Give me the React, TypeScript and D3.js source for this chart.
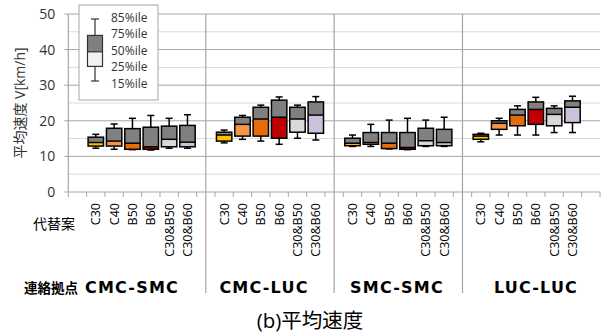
import React from "react";
import * as d3 from "d3";

const groups = ["CMC-SMC", "CMC-LUC", "SMC-SMC", "LUC-LUC"];
const alternatives = ["C30", "C40", "B50", "B60", "C30&B50", "C30&B60"];
const altColors = ["#ffc000", "#f79646", "#e46c0a", "#c00000", "#d9d9d9", "#ccc1da"];
const upperColor = "#808080";

// percentiles per group (rows) per alternative (cols)
const p15 = [
  [12.3, 12.0, 11.9, 11.8, 12.3, 12.3],
  [13.8, 14.8, 14.3, 13.4, 15.1, 14.6],
  [12.8, 12.8, 12.1, 11.9, 12.8, 12.8],
  [14.1, 16.0, 16.0, 16.0, 16.7, 16.7],
];
const p25 = [
  [12.9, 12.9, 12.0, 12.0, 12.7, 12.7],
  [14.3, 15.7, 15.7, 15.1, 16.8, 16.5],
  [13.0, 13.4, 12.2, 12.0, 13.0, 13.0],
  [14.8, 17.6, 18.6, 19.0, 18.6, 19.5],
];
const p50 = [
  [13.9, 14.3, 13.7, 12.7, 14.8, 14.0],
  [16.0, 19.0, 20.5, 21.0, 20.5, 21.6],
  [13.7, 13.9, 13.7, 12.5, 14.4, 13.9],
  [15.7, 19.3, 21.6, 23.2, 21.8, 23.8],
];
const p75 = [
  [15.4, 17.9, 17.8, 18.2, 18.5, 18.7],
  [16.8, 21.0, 23.8, 25.8, 23.8, 25.3],
  [15.1, 16.7, 16.7, 16.7, 17.9, 17.6],
  [16.2, 20.0, 23.2, 25.3, 23.5, 25.6],
];
const p85 = [
  [16.2, 19.1, 20.7, 21.5, 20.7, 21.7],
  [17.4, 21.5, 24.4, 26.7, 24.4, 26.8],
  [16.0, 19.0, 20.2, 20.7, 20.2, 21.0],
  [16.5, 20.7, 24.2, 26.6, 24.2, 26.9],
];

const yTicks = [0, 10, 20, 30, 40, 50];
const yMinor = [5, 15, 25, 35, 45];
const legendLabels = ["85%ile", "75%ile", "50%ile", "25%ile", "15%ile"];
const legendLabelY = [17.8, 34.2, 50.6, 67, 83.4];

const W = 602, H = 335;
const left = 68.3, right = 600, top = 14, bottom = 192;
const slotsPerGroup = alternatives.length + 1;
const nSlots = groups.length * slotsPerGroup + 1;
const groupLabelX = [132, 264, 397, 536];

export default function App() {
  const slots = d3.range(nSlots);
  const x = d3.scaleBand<number>().domain(slots).range([left, right]).padding(0);
  const y = d3.scaleLinear().domain([0, 50]).range([bottom, top]);
  const bw = x.bandwidth() * 0.84;
  const capW = 7;
  const font = "'Open Sans', 'Noto Sans CJK JP', sans-serif";
  const cjk = "'Noto Sans CJK JP', sans-serif";

  const slotOf = (g: number, a: number) => g * slotsPerGroup + 1 + a;
  const sepX = groups.slice(1).map((_, i) => (x((i + 1) * slotsPerGroup) as number) + x.bandwidth() / 2);

  const ly = d3.scaleLinear().domain([31, 48]).range([81, 19]);
  const lx = 95;

  return (
    <svg width={W} height={H} style={{ position: "absolute", left: 0, top: 0, background: "#fff" }}>
      <rect x={0} y={0} width={W} height={H} fill="#fff" />
      {yMinor.map((v) => (
        <line key={"m" + v} x1={left} x2={right} y1={y(v)} y2={y(v)} stroke="#d9d9d9" strokeWidth={1} />
      ))}
      {yTicks.filter((v) => v > 0).map((v) => (
        <line key={"g" + v} x1={left} x2={right} y1={y(v)} y2={y(v)} stroke="#a6a6a6" strokeWidth={1} />
      ))}
      {sepX.map((sx, i) => (
        <line key={"s" + i} x1={sx} x2={sx} y1={top} y2={293} stroke="#a6a6a6" strokeWidth={1.2} />
      ))}
      <line x1={left} x2={left} y1={top} y2={bottom} stroke="#a6a6a6" strokeWidth={1.2} />
      <line x1={left} x2={right} y1={bottom} y2={bottom} stroke="#a6a6a6" strokeWidth={1.2} />
      {yTicks.map((v) => (
        <g key={"t" + v}>
          <line x1={left - 4} x2={left} y1={y(v)} y2={y(v)} stroke="#a6a6a6" strokeWidth={1} />
          <text x={left - 13} y={y(v)} dy="0.35em" textAnchor="end" fontSize={14} fontFamily={font} fill="#333">
            {v}
          </text>
        </g>
      ))}
      {d3.range(nSlots + 1).map((i) => {
        const tx = i < nSlots ? (x(i) as number) : right;
        return <line key={"xt" + i} x1={tx} x2={tx} y1={bottom} y2={bottom + 5} stroke="#a6a6a6" strokeWidth={1} />;
      })}
      <text
        transform={`translate(25,103) rotate(-90)`}
        textAnchor="middle"
        fontSize={14}
        fontFamily={font}
        fill="#333"
      >
        平均速度 V[km/h]
      </text>

      {groups.map((g, gi) =>
        alternatives.map((a, ai) => {
          const cx = (x(slotOf(gi, ai)) as number) + x.bandwidth() / 2;
          const y15 = y(p15[gi][ai]), y25 = y(p25[gi][ai]), y50 = y(p50[gi][ai]), y75 = y(p75[gi][ai]), y85 = y(p85[gi][ai]);
          return (
            <g key={g + a}>
              <line x1={cx} x2={cx} y1={y85} y2={y75} stroke="#000" strokeWidth={1.5} />
              <line x1={cx} x2={cx} y1={y25} y2={y15} stroke="#000" strokeWidth={1.5} />
              <line x1={cx - capW / 2} x2={cx + capW / 2} y1={y85} y2={y85} stroke="#000" strokeWidth={1.5} />
              <line x1={cx - capW / 2} x2={cx + capW / 2} y1={y15} y2={y15} stroke="#000" strokeWidth={1.5} />
              <rect x={cx - bw / 2} y={y50} width={bw} height={y25 - y50} fill={altColors[ai]} />
              <rect x={cx - bw / 2} y={y75} width={bw} height={y50 - y75} fill={upperColor} />
              <rect x={cx - bw / 2} y={y75} width={bw} height={y25 - y75} fill="none" stroke="#000" strokeWidth={1.5} />
              <line x1={cx - bw / 2} x2={cx + bw / 2} y1={y50} y2={y50} stroke="#000" strokeWidth={1.5} />
            </g>
          );
        })
      )}

      {groups.map((g, gi) =>
        alternatives.map((a, ai) => {
          const cx = (x(slotOf(gi, ai)) as number) + x.bandwidth() / 2;
          return (
            <text
              key={"l" + g + a}
              transform={`translate(${cx + 4.5},203) rotate(-90)`}
              textAnchor="end"
              fontSize={12.5}
              fontFamily={font}
              fill="#000"
            >
              {a}
            </text>
          );
        })
      )}
      <text x={54} y={229} textAnchor="middle" fontSize={14} fontFamily={cjk} fill="#000">
        代替案
      </text>

      <text x={51} y={293} textAnchor="middle" fontSize={13.5} fontWeight="bold" fontFamily={cjk} fill="#000">
        連絡拠点
      </text>
      {groups.map((g, gi) => (
        <text
          key={"gl" + g}
          x={groupLabelX[gi]}
          y={293}
          textAnchor="middle"
          fontSize={16}
          fontWeight="bold"
          fontFamily="'DejaVu Sans', sans-serif"
          letterSpacing={1.2}
          fill="#000"
        >
          {g}
        </text>
      ))}

      <text x={310} y={328} textAnchor="middle" fontSize={20.5} fontFamily={font} fill="#000">
        (b)平均速度
      </text>

      <rect x={79} y={5} width={79} height={95} fill="#fff" stroke="#a6a6a6" strokeWidth={1} />
      <line x1={lx} x2={lx} y1={ly(48)} y2={ly(31)} stroke="#333" strokeWidth={1.2} />
      <line x1={lx - 4} x2={lx + 4} y1={ly(48)} y2={ly(48)} stroke="#333" strokeWidth={1.2} />
      <line x1={lx - 4} x2={lx + 4} y1={ly(31)} y2={ly(31)} stroke="#333" strokeWidth={1.2} />
      <rect x={lx - 7.5} y={ly(39)} width={15} height={ly(35) - ly(39)} fill="#f2f2f2" />
      <rect x={lx - 7.5} y={ly(43.5)} width={15} height={ly(39) - ly(43.5)} fill="#808080" />
      <rect x={lx - 7.5} y={ly(43.5)} width={15} height={ly(35) - ly(43.5)} fill="none" stroke="#333" strokeWidth={1.2} />
      <line x1={lx - 7.5} x2={lx + 7.5} y1={ly(39)} y2={ly(39)} stroke="#333" strokeWidth={1.2} />
      {legendLabels.map((l, i) => (
        <text key={l} x={111} y={legendLabelY[i]} dy="0.35em" fontSize={12} fontFamily={font} fill="#333">
          {l}
        </text>
      ))}
    </svg>
  );
}
